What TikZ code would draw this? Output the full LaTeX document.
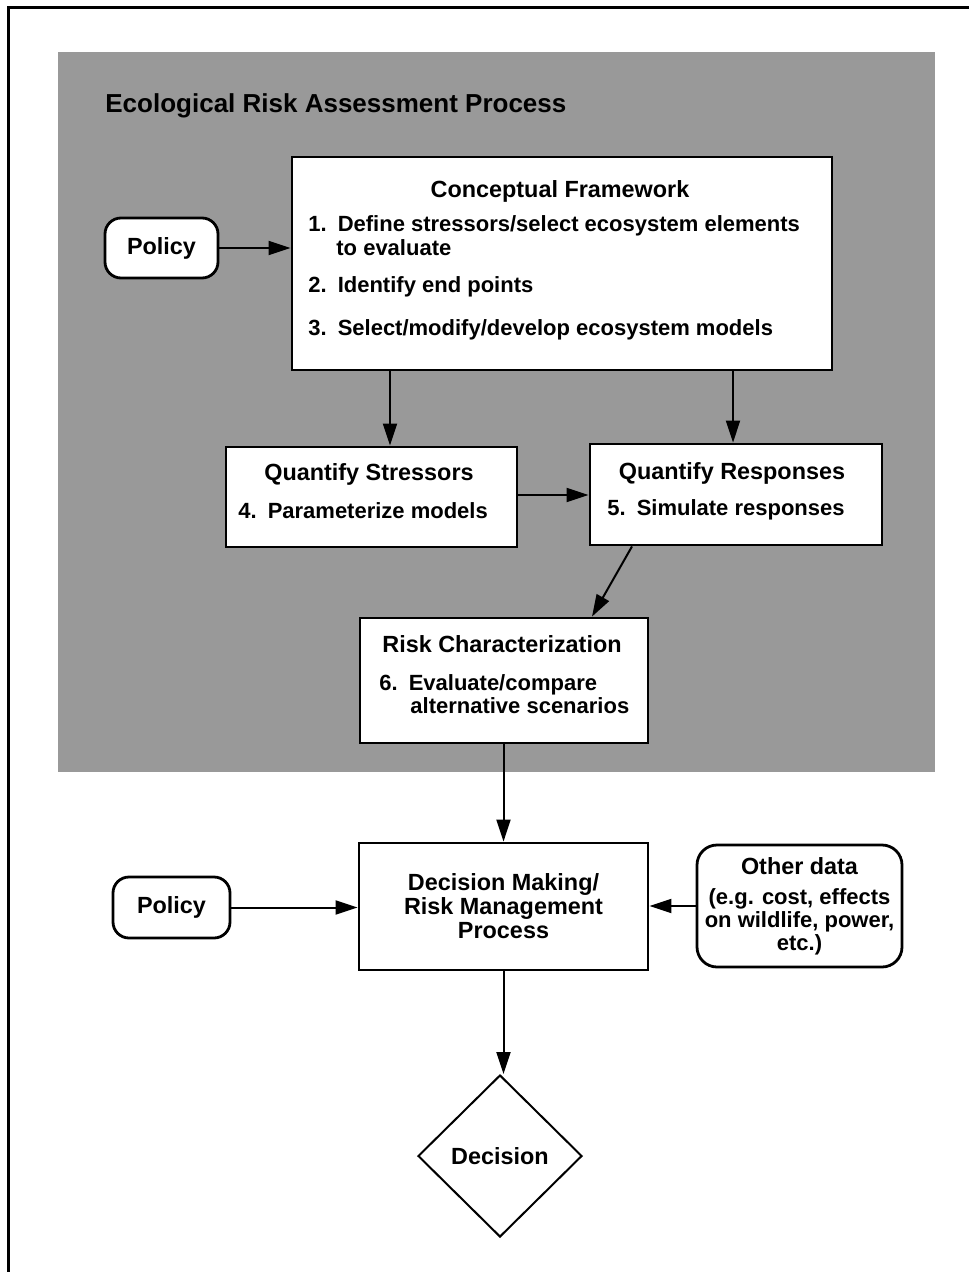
\documentclass[tikz,border=0pt]{standalone}
\usepackage{fontspec}
\setmainfont{Liberation Sans}
\usetikzlibrary{arrows.meta,shapes.geometric}
\begin{document}
\begin{tikzpicture}[x=0.5pt,y=-0.5pt,
  every node/.style={font=\bfseries\fontsize{11}{11.3}\selectfont, inner sep=0pt},
  ttl/.style={font=\bfseries\fontsize{11.7}{12}\selectfont},
  box/.style={draw, line width=1.4pt, fill=white, rectangle},
  rbox/.style={draw, line width=1.4pt, fill=white, rectangle, rounded corners=8pt},
  txt/.style={anchor=base west},
  ctxt/.style={anchor=base, ttl},
  arr/.style={line width=1pt, -{Triangle[length=11pt,width=7pt]}},
  panel/.style={fill=black!40, draw=none}
]
\useasboundingbox (0,0) rectangle (969,1272);
\fill[white] (0,0) rectangle (969,1272);
% outer frame (top and left edges visible)
\draw[line width=1.5pt] (8,1272) -- (8,8) -- (969,8);
% shaded panel
\node[panel, minimum width=438.5pt, minimum height=360pt] (panel) at (496.5,412) {};
\node[txt, font=\bfseries\fontsize{13}{13}\selectfont] (title) at (105,113) {Ecological Risk Assessment Process};

% boxes
\node[box, minimum width=270pt, minimum height=106.5pt] (cf) at (562,263.5) {};
\node[ctxt] (cft) at (560,198) {Conceptual Framework};
\node[txt] (cf1) at (308,232) {1.\enspace Define stressors/select ecosystem elements};
\node[txt] (cf1b) at (336,256) {to evaluate};
\node[txt] (cf2) at (308,293) {2.\enspace Identify end points};
\node[txt] (cf3) at (308,336) {3.\enspace Select/modify/develop ecosystem models};

\node[rbox, minimum width=56.5pt, minimum height=30pt, ttl] (p1) at (161.5,248) {Policy};

\node[box, minimum width=145.5pt, minimum height=50pt] (qs) at (371.5,497) {};
\node[ctxt] (qst) at (369,480) {Quantify Stressors};
\node[txt] (qs4) at (238,518) {4.\enspace Parameterize models};

\node[box, minimum width=146pt, minimum height=50.5pt] (qr) at (736,494.5) {};
\node[ctxt] (qrt) at (732,479) {Quantify Responses};
\node[txt] (qr5) at (607,515) {5.\enspace Simulate responses};

\node[box, minimum width=144pt, minimum height=62.5pt] (rc) at (504,680.5) {};
\node[ctxt] (rct) at (502,652) {Risk Characterization};
\node[txt] (rc6) at (379,690) {6.\enspace Evaluate/compare};
\node[txt] (rc6b) at (410,713) {alternative scenarios};

\node[box, minimum width=144.5pt, minimum height=63.5pt, align=center, ttl] (dm) at (503.5,906.5)
  {Decision Making/\\Risk Management\\Process};
\node[rbox, minimum width=58.5pt, minimum height=30.5pt, ttl] (p2) at (171.5,907.5) {Policy};
\node[rbox, rounded corners=10pt, minimum width=102.5pt, minimum height=61pt, align=center] (od) at (799.5,906)
  {{\fontsize{11.7}{12}\selectfont Other data}\\[4pt](e.g. cost, effects\\on wildlife, power,\\etc.)};
\node[draw, diamond, line width=1pt, fill=white, minimum width=82pt, minimum height=81pt, ttl] (dec) at (500,1156) {Decision};

% helper x positions
\coordinate (xa) at (390,0);
\coordinate (xb) at (733,0);
\coordinate (xc) at (632,0);
\coordinate (xd) at (592,0);
\coordinate (ya) at (0,495);

% connectors
\draw[arr] (p1.east) -- (cf.west |- p1.east);
\draw[arr] (cf.south -| xa) -- (qs.north -| xa);
\draw[arr] (cf.south -| xb) -- (qr.north -| xb);
\draw[arr] (qs.east |- ya) -- (qr.west |- ya);
\draw[arr] (qr.south -| xc) -- (rc.north -| xd);
\draw[arr] (rc.south -| dm.north) -- (dm.north);
\draw[arr] (p2.east) -- (dm.west |- p2.east);
\draw[arr] (od.west) -- (dm.east |- od.west);
\draw[arr] (dm.south) -- (dec.north -| dm.south);
\end{tikzpicture}
\end{document}
